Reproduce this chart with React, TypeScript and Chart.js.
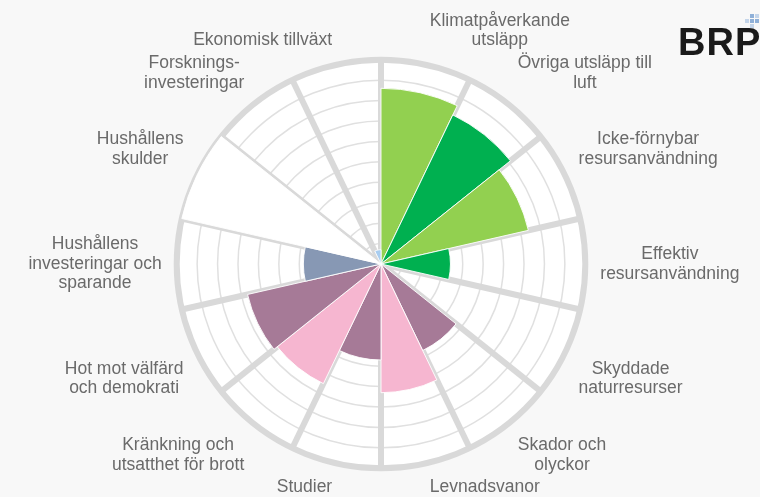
import React, { useEffect, useRef } from 'react';
import { Chart, registerables } from 'chart.js';

Chart.register(...registerables);

const categories: (string | string[])[] = [
  ['Klimatpåverkande', 'utsläpp'],
  ['Övriga utsläpp till', 'luft'],
  ['Icke-förnybar', 'resursanvändning'],
  ['Effektiv', 'resursanvändning'],
  ['Skyddade', 'naturresurser'],
  ['Skador och', 'olyckor'],
  'Levnadsvanor',
  'Studier',
  ['Kränkning och', 'utsatthet för brott'],
  ['Hot mot välfärd', 'och demokrati'],
  ['Hushållens', 'investeringar och', 'sparande'],
  ['Hushållens', 'skulder'],
  ['Forsknings-', 'investeringar'],
  'Ekonomisk tillväxt',
];

const values = [8.6, 8.1, 7.4, 3.4, 0, 4.7, 6.3, 4.7, 6.5, 6.7, 3.8, 10, 0, 0.7];

const LIGHT_GREEN = '#92d050';
const DARK_GREEN = '#00b050';
const MAUVE = '#a67a97';
const PINK = '#f6b6d0';
const BLUE_GREY = '#8798b4';
const WHITE = '#ffffff';
const LIGHT_BLUE = '#a9cdf0';

const segmentColors = [
  LIGHT_GREEN, DARK_GREEN, LIGHT_GREEN, DARK_GREEN,
  WHITE, MAUVE, PINK, MAUVE, PINK, MAUVE,
  BLUE_GREY, WHITE, WHITE, LIGHT_BLUE,
];

const scaleMax = 10;
const scaleStep = 1;

const FONT_FAMILY = "'Liberation Sans', Arial, sans-serif";
const FONT_SIZE = 17.5;
const LINE_HEIGHT = 1.12;
const LABEL_COLOR = '#6a6a6a';

const centeredLabels = {
  id: 'centeredLabels',
  afterDraw(chart: any) {
    const scale = chart.scales.r;
    const items = scale && scale._pointLabelItems;
    const labels = scale && scale._pointLabels;
    if (!items || !labels) return;
    const ctx = chart.ctx;
    ctx.save();
    ctx.font = `${FONT_SIZE}px ${FONT_FAMILY}`;
    ctx.fillStyle = LABEL_COLOR;
    ctx.textAlign = 'center';
    ctx.textBaseline = 'middle';
    const lh = FONT_SIZE * LINE_HEIGHT;
    labels.forEach((lab: string | string[], i: number) => {
      const it = items[i];
      if (!it) return;
      const lines = Array.isArray(lab) ? lab : [lab];
      const cx = (it.left + it.right) / 2;
      lines.forEach((ln, k) => ctx.fillText(ln, cx, it.top + lh * (k + 0.5)));
    });
    ctx.restore();
  },
};

export default function App() {
  const canvasRef = useRef<HTMLCanvasElement | null>(null);

  useEffect(() => {
    if (!canvasRef.current) return;
    const chart = new Chart(canvasRef.current, {
      type: 'polarArea',
      data: {
        labels: categories,
        datasets: [
          {
            data: values,
            backgroundColor: segmentColors,
            borderColor: 'rgba(255,255,255,0.9)',
            borderWidth: 1,
          },
        ],
      },
      options: {
        responsive: false,
        animation: false,
        layout: { padding: { left: 8, right: 0, top: 1, bottom: 0 } },
        plugins: {
          legend: { display: false },
          tooltip: { enabled: false },
        },
        scales: {
          r: {
            min: 0,
            max: scaleMax,
            backgroundColor: '#ffffff',
            ticks: { display: false, stepSize: scaleStep },
            grid: {
              circular: true,
              color: (c: any) => (c.index === scaleMax / scaleStep ? '#d9d9d9' : '#e0e0e0'),
              lineWidth: (c: any) => (c.index === scaleMax / scaleStep ? 6 : 1.5),
            },
            angleLines: { display: true, color: '#d9d9d9', lineWidth: 6 },
            pointLabels: {
              display: true,
              centerPointLabels: true,
              padding: 15,
              color: 'rgba(0,0,0,0)',
              font: { family: FONT_FAMILY, size: FONT_SIZE, lineHeight: LINE_HEIGHT },
            },
          },
        },
      } as any,
      plugins: [centeredLabels],
    });
    return () => chart.destroy();
  }, []);

  return (
    <div
      style={{
        position: 'fixed',
        left: 0,
        top: 0,
        width: 760,
        height: 497,
        background: '#f8f8f8',
        overflow: 'hidden',
      }}
    >
      <canvas ref={canvasRef} width={760} height={508} style={{ position: 'absolute', left: 0, top: 0 }} />
      <div
        style={{
          position: 'absolute',
          left: 678,
          top: 23,
          fontFamily: FONT_FAMILY,
          fontWeight: 700,
          fontSize: 38,
          lineHeight: 1,
          color: '#1a1a1a',
          letterSpacing: 1,
        }}
      >
        BRP
      </div>
      <div style={{ position: 'absolute', left: 750, top: 14, width: 4, height: 4, background: '#8fb0d8' }} />
      <div style={{ position: 'absolute', left: 755, top: 14, width: 4, height: 4, background: '#c4d5ea' }} />
      <div style={{ position: 'absolute', left: 745, top: 19, width: 4, height: 4, background: '#c4d5ea' }} />
      <div style={{ position: 'absolute', left: 750, top: 19, width: 4, height: 4, background: '#8fb0d8' }} />
      <div style={{ position: 'absolute', left: 755, top: 19, width: 4, height: 4, background: '#8fb0d8' }} />
      <div style={{ position: 'absolute', left: 750, top: 24, width: 4, height: 4, background: '#c4d5ea' }} />
    </div>
  );
}
